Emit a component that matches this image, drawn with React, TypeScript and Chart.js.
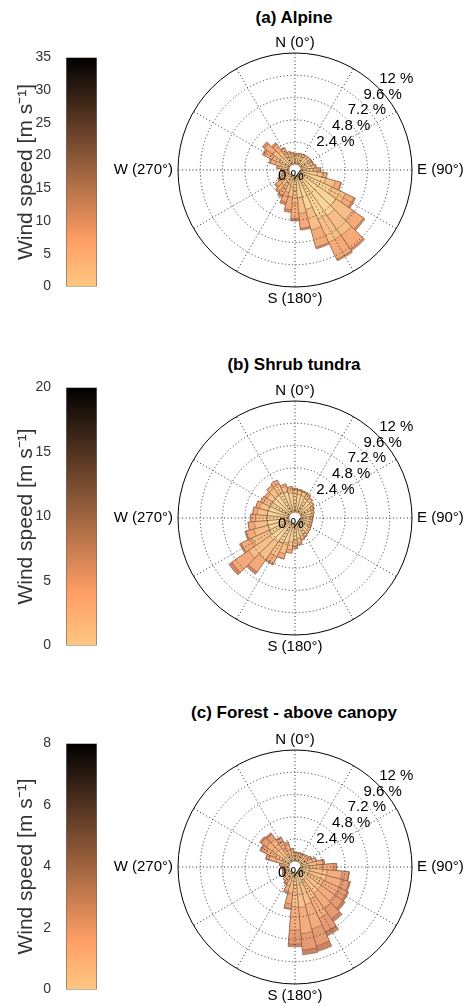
import React, { useEffect, useRef } from "react";
import { Chart, registerables } from "chart.js";

Chart.register(...registerables);

const FONT = '"Liberation Sans", Arial, Helvetica, sans-serif';

// ---- categories (bin centres, degrees clockwise from north) ----
const DIRECTIONS = [0, 10, 20, 30, 40, 50, 60, 70, 80, 90, 100, 110, 120, 130, 140, 150, 160, 170, 180, 190, 200, 210, 220, 230, 240, 250, 260, 270, 280, 290, 300, 310, 320, 330, 340, 350];
const SPOKES = [0, 30, 60, 90, 120, 150, 180, 210, 240, 270, 300, 330];
const COMPASS_LABELS = ["N (0°)", "E (90°)", "S (180°)", "W (270°)"];

// ---- frequency rings (%) ----
const FREQ_TICKS = [2.4, 4.8, 7.2, 9.6, 12];
const FREQ_LABELS = ["2.4 %", "4.8 %", "7.2 %", "9.6 %", "12 %"];
const ZERO_LABEL = "0 %";

// ---- (a) Alpine: frequency (%) per speed class, lowest class first ----
const ALPINE_C1 = [0.9, 0.95, 1.0, 1.0, 1.05, 1.1, 1.1, 1.1, 1.2, 1.4, 1.8, 2.8, 3.8, 4.8, 5.4, 5.2, 3.8, 2.4, 1.6, 1.2, 1.0, 0.9, 0.8, 0.8, 0.7, 0.6, 0.55, 0.6, 0.8, 1.0, 1.2, 1.3, 1.1, 0.9, 0.8, 0.85];
const ALPINE_C2 = [0.2, 0.2, 0.2, 0.25, 0.25, 0.25, 0.3, 0.3, 0.35, 0.5, 0.7, 1.1, 1.6, 2.2, 2.6, 2.8, 2.3, 1.7, 1.4, 1.1, 0.9, 0.7, 0.6, 0.5, 0.4, 0.25, 0.15, 0.2, 0.35, 0.6, 0.9, 1.0, 0.8, 0.6, 0.4, 0.3];
const ALPINE_C3 = [0.05, 0.05, 0.05, 0.05, 0.05, 0.05, 0.05, 0.1, 0.15, 0.25, 0.35, 0.6, 1.0, 1.4, 1.8, 2.0, 1.9, 1.6, 1.6, 1.4, 1.1, 0.9, 0.8, 0.6, 0.3, 0.15, 0.1, 0.1, 0.2, 0.55, 0.95, 1.1, 0.85, 0.5, 0.25, 0.15];
const ALPINE_C4 = [0, 0, 0, 0, 0, 0, 0, 0, 0, 0.05, 0.05, 0.1, 0.2, 0.2, 0.2, 0.2, 0.2, 0.2, 0.3, 0.3, 0.3, 0.2, 0.2, 0.2, 0.1, 0, 0, 0, 0.05, 0.15, 0.25, 0.3, 0.25, 0.1, 0.05, 0];
const ALPINE_SPEED_TICKS = [0, 5, 10, 15, 20, 25, 30, 35];

// ---- (b) Shrub tundra ----
const SHRUB_C1 = [2.0, 1.95, 1.9, 1.8, 1.65, 1.5, 1.35, 1.25, 1.15, 1.05, 1.05, 1.05, 1.1, 1.15, 1.2, 1.3, 1.4, 1.6, 1.8, 2.0, 2.2, 2.4, 2.6, 2.7, 2.5, 2.4, 2.4, 2.4, 2.4, 2.35, 2.3, 2.3, 2.4, 2.5, 2.3, 2.1];
const SHRUB_C2 = [0.45, 0.4, 0.4, 0.4, 0.35, 0.3, 0.27, 0.23, 0.2, 0.2, 0.2, 0.2, 0.2, 0.23, 0.27, 0.3, 0.35, 0.5, 0.65, 0.85, 1.2, 1.6, 2.3, 2.8, 2.0, 1.6, 1.4, 1.25, 1.1, 1.0, 0.85, 0.8, 0.9, 0.95, 0.65, 0.5];
const SHRUB_C3 = [0.15, 0.15, 0.1, 0.1, 0.1, 0.1, 0.08, 0.07, 0.05, 0.05, 0.05, 0.05, 0.05, 0.07, 0.08, 0.1, 0.15, 0.2, 0.25, 0.35, 0.55, 0.9, 1.6, 2.2, 1.3, 0.9, 0.65, 0.5, 0.45, 0.4, 0.35, 0.3, 0.4, 0.45, 0.25, 0.2];
const SHRUB_C4 = [0, 0, 0, 0, 0, 0, 0, 0, 0, 0, 0, 0, 0, 0, 0, 0, 0, 0, 0, 0, 0.05, 0.1, 0.3, 0.4, 0.2, 0.1, 0.05, 0.05, 0.05, 0.05, 0, 0, 0, 0, 0, 0];
const SHRUB_SPEED_TICKS = [0, 5, 10, 15, 20];

// ---- (c) Forest - above canopy ----
const FOREST_C1 = [0.6, 0.6, 0.6, 0.6, 0.6, 0.6, 0.65, 0.7, 0.8, 0.9, 1.0, 1.0, 1.0, 1.0, 1.0, 1.1, 1.2, 1.3, 1.3, 0.9, 0.7, 0.6, 0.55, 0.5, 0.5, 0.45, 0.45, 0.45, 0.5, 0.7, 0.8, 0.85, 0.8, 0.7, 0.65, 0.6];
const FOREST_C2 = [0.3, 0.3, 0.3, 0.3, 0.35, 0.4, 0.5, 0.65, 0.95, 1.4, 1.9, 1.9, 1.8, 1.8, 1.9, 2.1, 2.4, 2.5, 2.4, 1.3, 0.8, 0.5, 0.4, 0.3, 0.25, 0.25, 0.25, 0.25, 0.35, 0.8, 1.0, 1.1, 1.05, 0.85, 0.65, 0.45];
const FOREST_C3 = [0.1, 0.1, 0.1, 0.15, 0.15, 0.2, 0.25, 0.4, 0.7, 1.2, 1.6, 1.7, 1.8, 1.8, 2.0, 2.3, 2.7, 2.8, 2.5, 1.2, 0.6, 0.35, 0.25, 0.2, 0.15, 0.1, 0.1, 0.1, 0.2, 0.8, 1.1, 1.2, 1.2, 0.9, 0.6, 0.3];
const FOREST_C4 = [0, 0, 0, 0, 0, 0, 0, 0.05, 0.15, 0.35, 0.7, 0.85, 1.0, 1.1, 1.3, 1.6, 1.9, 1.8, 1.5, 0.5, 0.2, 0.05, 0, 0, 0, 0, 0, 0, 0.05, 0.35, 0.55, 0.7, 0.65, 0.45, 0.3, 0.05];
const FOREST_C5 = [0, 0, 0, 0, 0, 0, 0, 0, 0, 0.05, 0.1, 0.15, 0.2, 0.3, 0.4, 0.5, 0.6, 0.5, 0.3, 0.1, 0, 0, 0, 0, 0, 0, 0, 0, 0, 0.05, 0.15, 0.2, 0.2, 0.1, 0, 0];
const FOREST_SPEED_TICKS = [0, 2, 4, 6, 8];

// ---- styles ----
const ALPINE_COLORS = ["#F9D497", "#F7BF88", "#F5AA7A", "#D98D69"];
const SHRUB_COLORS = ["#F6D59C", "#F6BE88", "#F3A97A", "#CF8766"];
const FOREST_COLORS = ["#F7D89D", "#F7C08C", "#F4AD80", "#E69B74", "#C98365"];
const EDGE_COLOR = "rgba(115,75,50,0.8)";
const DOT_COLOR = "#2e2e2e";
// reversed MATLAB "copper" colormap, bottom (0) to top (max)
const COPPER_REV = ["#FFC77F", "#FFB372", "#FF9F65", "#DF8B59", "#BF784C", "#9F643F", "#805033", "#603C26", "#402819", "#20140D", "#000000"];

const R_MIN = -0.6;
const R_MAX = 12;

const roseLabels = {
  id: "roseLabels",
  afterDraw(chart: any) {
    const s = chart.scales.r;
    const ctx = chart.ctx;
    const cx = s.xCenter;
    const cy = s.yCenter;
    const R = s.drawingArea;
    ctx.save();
    // central hole
    ctx.fillStyle = "#ffffff";
    ctx.beginPath();
    ctx.arc(cx, cy, s.getDistanceFromCenterForValue(0), 0, Math.PI * 2);
    ctx.fill();
    // outer solid circle
    ctx.setLineDash([]);
    ctx.strokeStyle = "#000";
    ctx.lineWidth = 1;
    ctx.beginPath();
    ctx.arc(cx, cy, R, 0, Math.PI * 2);
    ctx.stroke();
    // ring labels
    ctx.fillStyle = "#000";
    ctx.font = `15px ${FONT}`;
    ctx.textAlign = "left";
    ctx.textBaseline = "middle";
    const a = Math.PI / 4;
    FREQ_TICKS.forEach((v, i) => {
      const r = s.getDistanceFromCenterForValue(v);
      ctx.fillText(FREQ_LABELS[i], cx + r * Math.sin(a) + 1.5, cy - r * Math.cos(a) - 8.5);
    });
    ctx.textAlign = "center";
    ctx.fillText(ZERO_LABEL, cx - 4, cy + 5.5);
    // compass labels
    ctx.font = `15px ${FONT}`;
    ctx.textAlign = "center";
    ctx.fillText(COMPASS_LABELS[0], cx, cy - R - 10);
    ctx.fillText(COMPASS_LABELS[2], cx, cy + R + 12);
    ctx.textAlign = "left";
    ctx.fillText(COMPASS_LABELS[1], cx + R + 5, cy);
    ctx.textAlign = "right";
    ctx.fillText(COMPASS_LABELS[3], cx - R - 5, cy);
    ctx.restore();
  },
};

const CANVAS_W = 463;
const ROSE_H = 320;
const ROSE_PADDING = { left: 127, right: 0, top: 43, bottom: 43 };

function Rose({ cy, classes, colors }: { cy: number; classes: number[][]; colors: string[] }) {
  const barRef = useRef<HTMLCanvasElement>(null);
  const gridRef = useRef<HTMLCanvasElement>(null);
  useEffect(() => {
    const stacks: number[][] = [];
    classes.reduce((acc, cls) => {
      const next = acc.map((v, i) => v + cls[i]);
      stacks.push(next);
      return next;
    }, DIRECTIONS.map(() => 0));

    const bar = new Chart(barRef.current as HTMLCanvasElement, {
      type: "polarArea",
      data: {
        labels: DIRECTIONS.map((d) => `${d}°`),
        datasets: stacks.map((d, k) => ({
          data: d,
          backgroundColor: colors[k],
          borderColor: EDGE_COLOR,
          borderWidth: 0.6,
        })),
      },
      options: {
        responsive: false,
        animation: false,
        layout: { padding: ROSE_PADDING },
        plugins: { legend: { display: false }, tooltip: { enabled: false } },
        scales: {
          r: {
            min: R_MIN,
            max: R_MAX,
            startAngle: -5,
            grid: { display: false },
            angleLines: { display: false },
            ticks: { display: false },
            pointLabels: { display: false },
          },
        },
      } as any,
    });

    const grid = new Chart(gridRef.current as HTMLCanvasElement, {
      type: "radar",
      data: { labels: SPOKES.map((a) => `${a}°`), datasets: [] },
      options: {
        responsive: false,
        animation: false,
        layout: { padding: ROSE_PADDING },
        plugins: { legend: { display: false }, tooltip: { enabled: false } },
        scales: {
          r: {
            min: R_MIN,
            max: R_MAX,
            startAngle: 0,
            afterBuildTicks: (s: any) => {
              s.ticks = FREQ_TICKS.map((v) => ({ value: v }));
            },
            grid: {
              circular: true,
              color: (c: any) => (c.index === FREQ_TICKS.length - 1 ? "rgba(0,0,0,0)" : DOT_COLOR),
              lineWidth: 1,
            },
            border: { dash: [1, 2.5] },
            angleLines: { display: true, color: DOT_COLOR, lineWidth: 1, borderDash: [1, 2.5] },
            ticks: { display: false },
            pointLabels: { display: false },
          },
        },
      } as any,
      plugins: [roseLabels],
    });
    return () => {
      bar.destroy();
      grid.destroy();
    };
  }, []);
  const style: React.CSSProperties = { position: "absolute", left: 0, top: cy - ROSE_H / 2 };
  return (
    <>
      <canvas ref={barRef} width={CANVAS_W} height={ROSE_H} style={style} />
      <canvas ref={gridRef} width={CANVAS_W} height={ROSE_H} style={style} />
    </>
  );
}

function ColorBar({ ticks, top, bottom }: { ticks: number[]; top: number; bottom: number }) {
  const ref = useRef<HTMLCanvasElement>(null);
  useEffect(() => {
    const max = ticks[ticks.length - 1];
    const chart = new Chart(ref.current as HTMLCanvasElement, {
      type: "bar",
      data: {
        labels: [""],
        datasets: [
          {
            data: [max],
            backgroundColor: (c: any) => {
              const ca = c.chart.chartArea;
              if (!ca) return COPPER_REV[0];
              const g = c.chart.ctx.createLinearGradient(0, ca.bottom, 0, ca.top);
              COPPER_REV.forEach((col, i) => g.addColorStop(i / (COPPER_REV.length - 1), col));
              return g;
            },
            borderColor: "#6e6e6e",
            borderWidth: 1,
            borderSkipped: false,
            barPercentage: 1,
            categoryPercentage: 1,
          },
        ],
      },
      options: {
        responsive: false,
        animation: false,
        layout: { padding: { left: 0, right: 3, top: 12, bottom: 12 } },
        plugins: { legend: { display: false }, tooltip: { enabled: false } },
        scales: {
          x: { display: false },
          y: {
            min: 0,
            max,
            afterBuildTicks: (s: any) => {
              s.ticks = ticks.map((v) => ({ value: v }));
            },
            afterFit: (s: any) => {
              s.width = 66;
            },
            grid: { display: false },
            border: { display: false },
            ticks: { color: "#333333", font: { family: FONT, size: 14 }, padding: 7 },
            title: {
              display: true,
              text: "Wind speed [m s⁻¹]",
              color: "#333333",
              font: { family: FONT, size: 21 },
              padding: { top: 14, bottom: 0 },
            },
          },
        },
      } as any,
    });
    return () => chart.destroy();
  }, []);
  return (
    <canvas
      ref={ref}
      width={100}
      height={bottom - top + 24}
      style={{ position: "absolute", left: 0, top: top - 12 }}
    />
  );
}

function Title({ text, y }: { text: string; y: number }) {
  return (
    <div
      style={{
        position: "absolute",
        left: 94,
        width: 400,
        top: y - 10,
        lineHeight: "20px",
        textAlign: "center",
        font: `bold 17px ${FONT}`,
        color: "#000",
      }}
    >
      {text}
    </div>
  );
}

export default function App() {
  return (
    <div style={{ position: "absolute", left: 0, top: 0, width: 463, height: 1006, overflow: "hidden", background: "#fff" }}>
      <Title text="(a) Alpine" y={18} />
      <ColorBar ticks={ALPINE_SPEED_TICKS} top={54} bottom={290} />
      <Rose cy={170} classes={[ALPINE_C1, ALPINE_C2, ALPINE_C3, ALPINE_C4]} colors={ALPINE_COLORS} />

      <Title text="(b) Shrub tundra" y={365} />
      <ColorBar ticks={SHRUB_SPEED_TICKS} top={384} bottom={649} />
      <Rose cy={518} classes={[SHRUB_C1, SHRUB_C2, SHRUB_C3, SHRUB_C4]} colors={SHRUB_COLORS} />

      <Title text="(c) Forest - above canopy" y={713} />
      <ColorBar ticks={FOREST_SPEED_TICKS} top={740} bottom={993} />
      <Rose cy={867} classes={[FOREST_C1, FOREST_C2, FOREST_C3, FOREST_C4, FOREST_C5]} colors={FOREST_COLORS} />
    </div>
  );
}
